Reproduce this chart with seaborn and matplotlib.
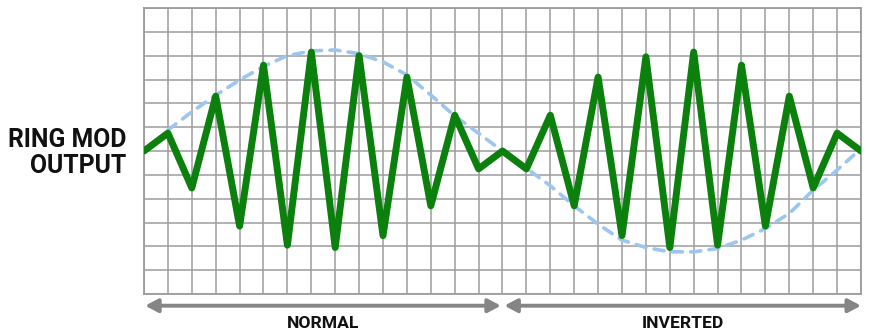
import numpy as np
import pandas as pd
import matplotlib
matplotlib.use("Agg")
import matplotlib.pyplot as plt
import seaborn as sns

# ---- data ----
steps = list(range(31))
ring_output = [0, 0.75, -1.55, 2.3, -3.15, 3.6, -3.95, 4.15, -4.05, 4.0, -3.55, 3.1,
               -2.3, 1.5, -0.75, 0, -0.75, 1.5, -2.3, 3.1, -3.55, 3.95, -4.05, 4.15,
               -3.95, 3.6, -3.15, 2.3, -1.55, 0.75, 0]
env_x = list(range(1, 30)) + [29.7]
env_y = [0.88, 1.64, 2.34, 2.98, 3.55, 4.0, 4.2, 4.24, 4.08, 3.74, 3.19, 2.35, 1.47,
         0.74, 0.0, -0.72, -1.46, -2.3, -3.07, -3.74, -4.05, -4.23, -4.23, -4.09,
         -3.74, -3.25, -2.62, -1.64, -0.8, -0.17]
y_label_lines = ["RING MOD", "OUTPUT"]
section_labels = ["NORMAL", "INVERTED"]
section_spans = [(0.05, 14.93), (15.08, 30.0)]

df_out = pd.DataFrame({"x": steps, "y": ring_output})
df_env = pd.DataFrame({"x": env_x, "y": env_y})

sns.set_style("white")
plt.rcParams["font.family"] = ["Roboto", "DejaVu Sans"]

W, H = 870, 336
fig = plt.figure(figsize=(W / 100, H / 100), dpi=100)
ax = fig.add_axes([144 / W, (H - 294) / H, 717 / W, 286 / H])

grid_col = "#9c9c9c"
ax.set_xlim(0, 30)
ax.set_ylim(-6, 6)
ax.set_xticks(np.arange(0, 31, 1))
ax.set_yticks(np.arange(-6, 7, 1))
ax.grid(True, color=grid_col, linewidth=1.1)
ax.tick_params(length=0, labelbottom=False, labelleft=False)
for sp in ax.spines.values():
    sp.set_color(grid_col)
    sp.set_linewidth(1.3)
ax.set_axisbelow(True)

sns.lineplot(data=df_env, x="x", y="y", ax=ax, color="#9cc6f0", linewidth=2.6,
             estimator=None, sort=False, linestyle=(0, (2.8, 2.3)),
             dash_capstyle="round", zorder=2)
sns.lineplot(data=df_out, x="x", y="y", ax=ax, color="#0b800d", linewidth=5.0,
             estimator=None, sort=False, zorder=3)
ax.set_xlabel("")
ax.set_ylabel("")

# left label
fig.text(126 / W, (H - 147) / H, y_label_lines[0], ha="right", va="baseline",
         fontsize=17.8, fontweight="bold", color="#111111")
fig.text(126 / W, (H - 173) / H, y_label_lines[1], ha="right", va="baseline",
         fontsize=17.8, fontweight="bold", color="#111111")

# arrows and section labels
arrow_y = (294 - 305.7) / 286
for (x0, x1), lab in zip(section_spans, section_labels):
    ax.annotate("", xy=(x1, arrow_y), xytext=(x0, arrow_y),
                xycoords=("data", "axes fraction"), textcoords=("data", "axes fraction"),
                annotation_clip=False,
                arrowprops=dict(arrowstyle="<|-|>,head_length=0.75,head_width=0.4",
                                mutation_scale=10, color="#858585", lw=2.8,
                                shrinkA=0, shrinkB=0))
    ax.text((x0 + x1) / 2, (294 - 328) / 286, lab, transform=ax.get_xaxis_transform(),
            ha="center", va="baseline", fontsize=12.6, fontweight="bold",
            color="#111111", clip_on=False)

fig.savefig("out.png", dpi=100)
